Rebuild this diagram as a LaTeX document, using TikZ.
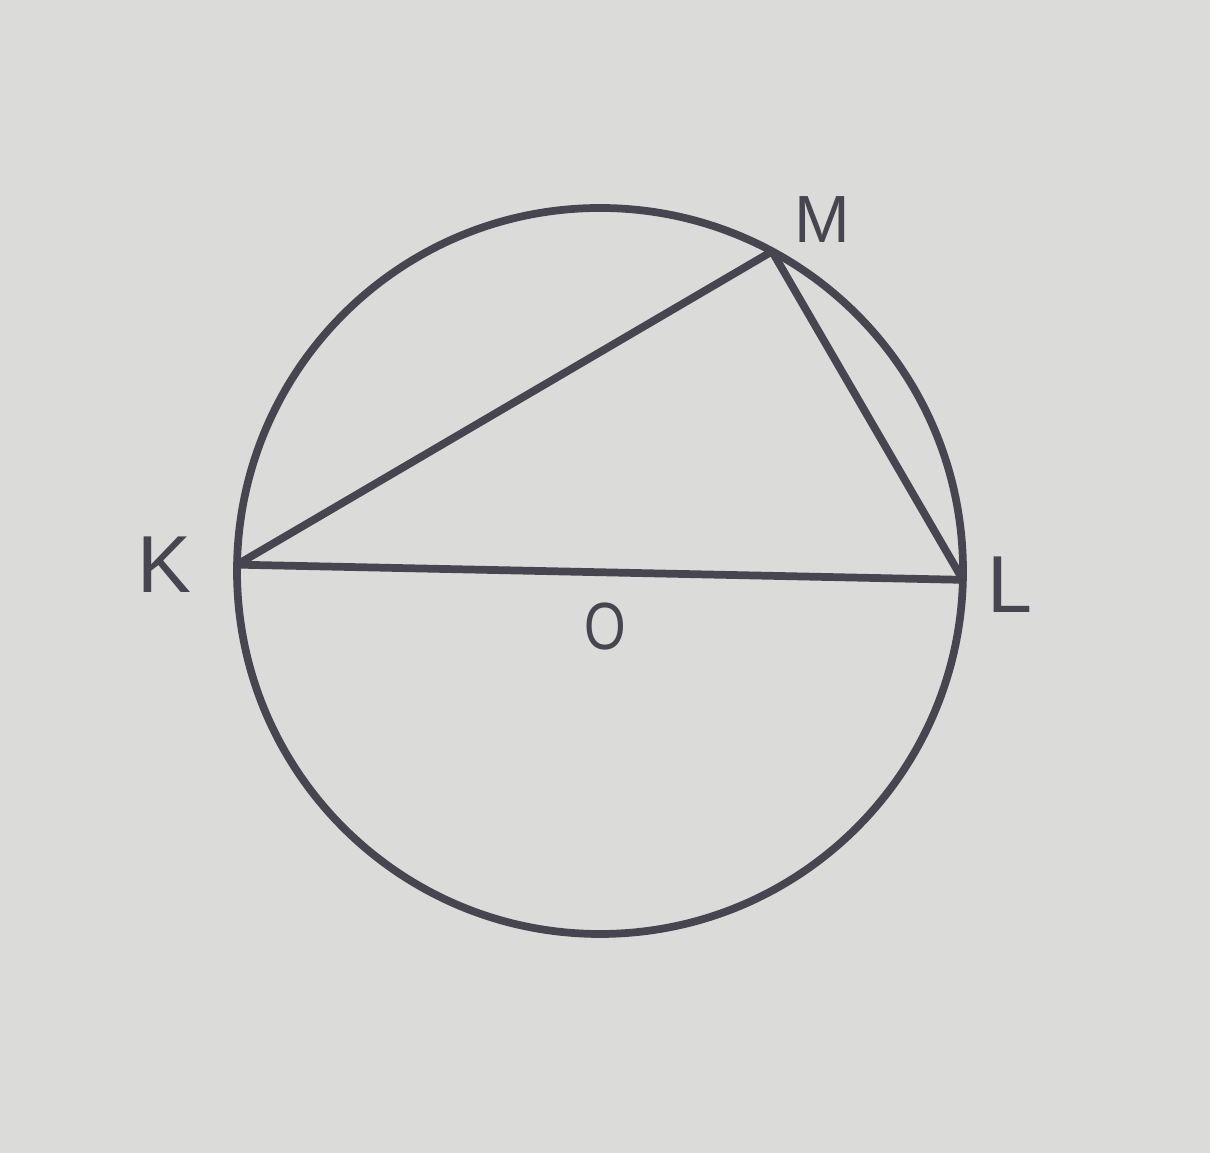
\documentclass[tikz,border=0pt]{standalone}
\usepackage{fontspec}
\setmainfont{Liberation Sans}
\definecolor{paper}{HTML}{DBDBD9}
\definecolor{ink}{HTML}{47454F}
\begin{document}
\begin{tikzpicture}[
  line cap=round,
  line join=round,
  edge/.style={ink, line width=2.2pt},
  lbl/.style={font=\fontsize{23}{27}\selectfont, text=ink},
  small lbl/.style={font=\fontsize{19}{23}\selectfont, text=ink}
]
  \def\R{3.63}

  % Фон
  \fill[paper] (0,0) rectangle (12.10,11.53);
  \useasboundingbox (0,0) rectangle (12.10,11.53);

  % Центр и точки на окружности
  \coordinate (O) at (6.00,5.82);
  \path (O) ++(179:\R)  coordinate (K);
  \path (O) ++(-1.4:\R) coordinate (L);
  \path (O) ++(61.7:\R) coordinate (M);

  % Окружность
  \draw[edge] (O) circle[radius=\R];

  % Треугольник
  \draw[edge] (K)--(L)--(M)--cycle;

  % Подписи
  \node[lbl]       (labK) at (1.64,5.88) {K};
  \node[lbl]       (labL) at (10.10,5.68) {L};
  \node[small lbl] (labM) at (8.22,9.33) {M};
  \node[small lbl, xscale=0.8] (labO) at (6.05,5.26) {O};
\end{tikzpicture}
\end{document}
